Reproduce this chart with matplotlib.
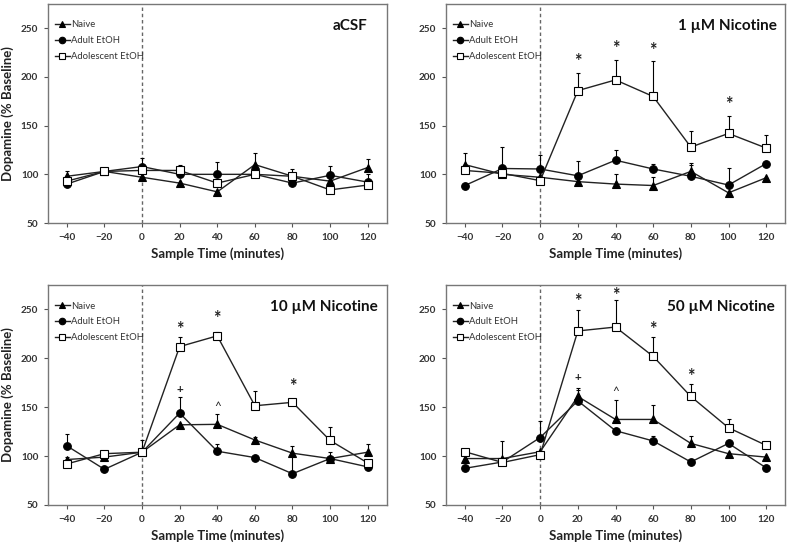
import numpy as np
import matplotlib
matplotlib.use("Agg")
import matplotlib.pyplot as plt

plt.rcParams['font.family'] = ['Lato', 'DejaVu Sans']

##Sample times (minutes)
times = [-40, -20, 0, 20, 40, 60, 80, 100, 120]

##aCSF
acsf_naive = [98, 103, 97, 91, 82, 110, 98, 93, 107]
acsf_naive_err = [5, 0, 0, 0, 0, 12, 0, 0, 9]
acsf_adult = [90, 103, 108, 100, 100, 100, 91, 99, 92]
acsf_adult_err = [0, 0, 9, 0, 13, 0, 0, 10, 0]
acsf_adol = [93, 103, 104, 104, 91, 100, 98, 84, 89]
acsf_adol_err = [0, 0, 0, 6, 0, 0, 7, 0, 11]

##1 uM nicotine
nic1_naive = [110, 100, 97, 92.5, 90, 88.5, 103, 81, 96.5]
nic1_naive_err = [11.5, 0, 0, 0, 10, 8.5, 7, 0, 0]
nic1_adult = [88.5, 106, 105.5, 98.5, 114.5, 105.5, 98, 89, 111]
nic1_adult_err = [0, 22, 14, 15.5, 10.5, 5.5, 14, 17, 0]
nic1_adol = [104, 101, 93.5, 186, 197, 180, 128, 142, 127]
nic1_adol_err = [0, 0, 0, 18, 20, 36, 17, 18, 13]

##10 uM nicotine
nic10_naive = [96.5, 99, 104, 132, 132.5, 116.5, 103, 97.5, 104]
nic10_naive_err = [3, 0, 0, 0, 11, 3.5, 7, 0, 8.5]
nic10_adult = [110.5, 86.5, 104, 144, 105, 98.5, 82, 97.5, 89]
nic10_adult_err = [12.5, 0, 12, 16, 7, 0, 18, 7, 0]
nic10_adol = [92, 102.5, 104, 212, 223, 151.5, 155, 116, 93]
nic10_adol_err = [0, 0, 0, 9.5, 4, 15.5, 3, 14, 0]

##50 uM nicotine
nic50_naive = [97.5, 97.5, 104.5, 161, 137.5, 137.5, 113, 102.5, 99]
nic50_naive_err = [0, 0, 0, 8.5, 20, 15, 8, 0, 0]
nic50_adult = [87.5, 94, 119, 156.5, 126, 115.5, 94, 113, 88]
nic50_adult_err = [0, 21, 17, 11, 0, 5.5, 0, 0, 0]
nic50_adol = [104.5, 93.5, 101.5, 228, 232, 202, 161, 129, 111]
nic50_adol_err = [0, 0, 0, 21, 28, 19.5, 13, 8.5, 0]

##Significance marks: (time, height, symbol)
acsf_marks = []
nic1_marks = [(20, 219, '*'), (40, 232.5, '*'), (60, 230, '*'), (100, 174.5, '*')]
nic10_marks = [(20, 232.5, '*'), (40, 243.5, '*'), (80, 174.5, '*'),
               (20, 168, '+'), (40, 150.5, '^')]
nic50_marks = [(20, 261.5, '*'), (40, 267.5, '*'), (60, 232, '*'), (80, 184.5, '*'),
               (20, 180, '+'), (40, 166, '^')]

panels = [
    ('aCSF', acsf_naive, acsf_naive_err, acsf_adult, acsf_adult_err, acsf_adol, acsf_adol_err, acsf_marks),
    ('1 µM Nicotine', nic1_naive, nic1_naive_err, nic1_adult, nic1_adult_err, nic1_adol, nic1_adol_err, nic1_marks),
    ('10 µM Nicotine', nic10_naive, nic10_naive_err, nic10_adult, nic10_adult_err, nic10_adol, nic10_adol_err, nic10_marks),
    ('50 µM Nicotine', nic50_naive, nic50_naive_err, nic50_adult, nic50_adult_err, nic50_adol, nic50_adol_err, nic50_marks),
]

W, H = 790, 545
boxes = [(48, 4, 386.5, 223), (446, 4, 785, 223),
         (48, 285, 386.5, 505), (446, 285, 785, 505)]
title_x = [0.943, 0.976, 0.975, 0.97]

fig = plt.figure(figsize=(7.9, 5.45), dpi=100)

for k, (title, nv, ne, av, ae, dv, de, marks) in enumerate(panels):
    x0, y0, x1, y1 = boxes[k]
    ax = fig.add_axes([x0 / W, 1 - y1 / H, (x1 - x0) / W, (y1 - y0) / H])

    ax.axvline(0, color='#666666', lw=1, ls=(0, (2.5, 2)), zorder=1)

    series = [('Naive', nv, ne, '^', 'black', 5.5),
              ('Adult EtOH', av, ae, 'o', 'black', 5.5),
              ('Adolescent EtOH', dv, de, 's', 'white', 5.5)]
    for z, (lab, vals, err, mk, fc, ms) in enumerate(series):
        ax.errorbar(times, vals, yerr=[np.zeros(len(err)), err], fmt='none',
                    ecolor='black', elinewidth=0.8, capsize=1.6, capthick=0.8, zorder=2 + z)
        ax.plot(times, vals, color='#222222', lw=1.0, marker=mk, ms=ms,
                mfc=fc, mec='black', mew=0.8, label=lab, zorder=3 + z)

    for t, yv, sym in marks:
        if sym == '*':
            ax.text(t, yv - 3, sym, ha='center', va='center', fontsize=13,
                    fontweight='bold', color='#222222')
        else:
            ax.text(t, yv, sym, ha='center', va='center', fontsize=8.5,
                    fontweight='bold' if sym == '+' else 'normal', color='#222222')

    ax.set_xlim(-50, 130)
    ax.set_ylim(50, 275)
    ax.set_xticks(times)
    ax.set_yticks([50, 100, 150, 200, 250])
    ax.tick_params(direction='out', length=3, width=0.8, color='#555555',
                   labelsize=7.2, labelcolor='#333333', pad=4)
    for lbl in ax.get_xticklabels() + ax.get_yticklabels():
        lbl.set_fontweight('bold')
    for sp in ax.spines.values():
        sp.set_color('#777777')
        sp.set_linewidth(1.0)

    ax.set_xlabel('Sample Time (minutes)', fontsize=9.5, fontweight='bold', color='#222222', labelpad=4)
    if k % 2 == 0:
        ax.set_ylabel('Dopamine (% Baseline)', fontsize=9.5, fontweight='bold', color='#222222', labelpad=5)

    ax.text(title_x[k], 0.9, title, transform=ax.transAxes, ha='right', va='center',
            fontsize=11, fontweight='bold', color='#111111')

    leg = ax.legend(loc='upper left', bbox_to_anchor=(0.0, 0.955), frameon=False,
                    fontsize=6.8, handlelength=1.6, handletextpad=0.15,
                    labelspacing=0.72, markerscale=0.85, borderaxespad=0.3)
    for txt in leg.get_texts():
        txt.set_color('#333333')

plt.savefig('out.png', dpi=100)
